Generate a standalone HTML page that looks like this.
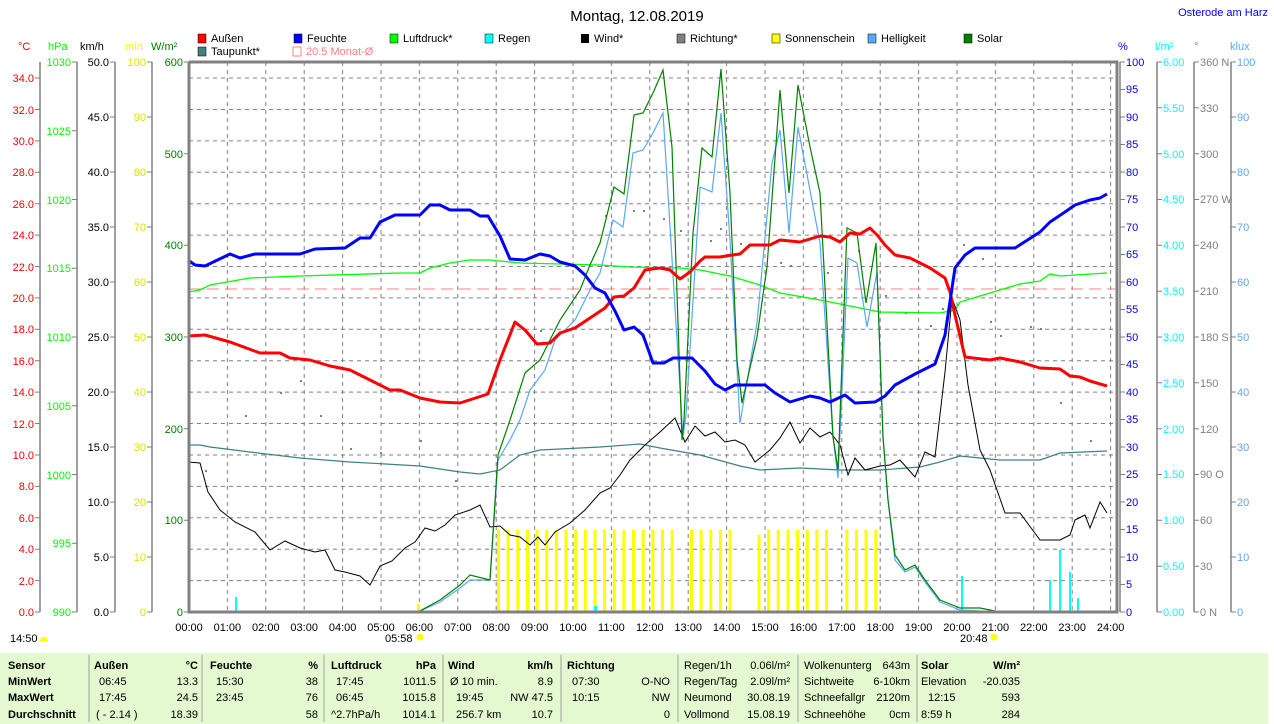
<!DOCTYPE html>
<html><head><meta charset="utf-8"><style>
html,body{margin:0;padding:0;background:#fff;}
svg{display:block;font-family:"Liberation Sans",sans-serif;}
</style></head><body>
<svg width="1274" height="724" viewBox="0 0 1274 724" xmlns="http://www.w3.org/2000/svg">
<rect width="1274" height="724" fill="#fff"/>
<text x="637" y="21" font-size="15" text-anchor="middle" fill="#000">Montag, 12.08.2019</text>
<text x="1268" y="16" font-size="11" text-anchor="end" fill="#0000ff">Osterode am Harz</text>
<!-- legend -->
<g font-size="11" fill="#000">
<rect x="198" y="34" width="8" height="9" fill="#f00" stroke="#000" stroke-width="0.5"/><text x="211" y="42">Außen</text>
<rect x="294" y="34" width="8" height="9" fill="#00f" stroke="#000" stroke-width="0.5"/><text x="307" y="42">Feuchte</text>
<rect x="390" y="34" width="8" height="9" fill="#0f0" stroke="#000" stroke-width="0.5"/><text x="403" y="42">Luftdruck*</text>
<rect x="485" y="34" width="8" height="9" fill="#0ff" stroke="#000" stroke-width="0.5"/><text x="498" y="42">Regen</text>
<rect x="581" y="34" width="8" height="9" fill="#000"/><text x="594" y="42">Wind*</text>
<rect x="677" y="34" width="8" height="9" fill="#808080" stroke="#000" stroke-width="0.5"/><text x="690" y="42">Richtung*</text>
<rect x="772" y="34" width="8" height="9" fill="#ff0" stroke="#000" stroke-width="0.5"/><text x="785" y="42">Sonnenschein</text>
<rect x="868" y="34" width="8" height="9" fill="#59a7ff" stroke="#000" stroke-width="0.5"/><text x="881" y="42">Helligkeit</text>
<rect x="964" y="34" width="8" height="9" fill="#008000" stroke="#000" stroke-width="0.5"/><text x="977" y="42">Solar</text>
<rect x="198" y="47" width="8" height="9" fill="#408080" stroke="#000" stroke-width="0.5"/><text x="211" y="55">Taupunkt*</text>
<rect x="293" y="47" width="8" height="9" fill="none" stroke="#ff8080"/><text x="306" y="55" fill="#ff8080">20.5 Monat-Ø</text>
</g>
<!-- axis units -->
<g font-size="11">
<text x="18" y="50" fill="#f00">°C</text>
<text x="48" y="50" fill="#0f0">hPa</text>
<text x="80" y="50" fill="#000">km/h</text>
<text x="125" y="50" fill="#ff0">min</text>
<text x="151" y="50" fill="#008000">W/m²</text>
<text x="1118" y="50" fill="#00f">%</text>
<text x="1155" y="50" fill="#0ff">l/m²</text>
<text x="1194" y="50" fill="#808080">°</text>
<text x="1230" y="50" fill="#59a7ff">klux</text>
</g>
<!-- grid -->
<g stroke="#808080" stroke-dasharray="4,4" stroke-width="1">
<path d="M227.4 62V612M265.8 62V612M304.2 62V612M342.6 62V612M381 62V612M419.4 62V612M457.8 62V612M496.2 62V612M534.6 62V612M573 62V612M611.4 62V612M649.8 62V612M688.2 62V612M726.6 62V612M765 62V612M803.4 62V612M841.8 62V612M880.2 62V612M918.6 62V612M957 62V612M995.4 62V612M1033.8 62V612M1072.2 62V612M1110.6 62V612"/>
<path d="M189 580.6H1117M189 549.2H1117M189 517.8H1117M189 486.4H1117M189 455H1117M189 423.5H1117M189 392.1H1117M189 360.7H1117M189 329.3H1117M189 297.9H1117M189 266.5H1117M189 235.1H1117M189 203.7H1117M189 172.3H1117M189 140.9H1117M189 109.5H1117M189 78H1117"/>
</g>
<line x1="189" y1="289" x2="1117" y2="289" stroke="#ff8080" stroke-dasharray="12,6"/>
<!-- sunshine bars -->
<g fill="#ff0">
<rect x="497" y="530" width="3" height="82"/><rect x="506.6" y="530" width="3" height="82"/><rect x="516.3" y="530" width="3" height="82"/><rect x="526" y="530" width="3" height="82"/><rect x="535.6" y="530" width="3" height="82"/><rect x="545.2" y="530" width="3" height="82"/><rect x="554.9" y="530" width="3" height="82"/><rect x="564.5" y="530" width="3" height="82"/><rect x="574.2" y="530" width="3" height="82"/><rect x="583.8" y="530" width="3" height="82"/><rect x="593.5" y="530" width="3" height="82"/><rect x="603.1" y="530" width="3" height="82"/><rect x="612.8" y="530" width="3" height="82"/><rect x="622.4" y="530" width="3" height="82"/><rect x="632" y="530" width="3" height="82"/><rect x="641.7" y="530" width="3" height="82"/><rect x="651.4" y="530" width="3" height="82"/><rect x="661" y="530" width="3" height="82"/><rect x="670.7" y="530" width="3" height="82"/>
<rect x="690" y="530" width="3" height="82"/><rect x="699.6" y="530" width="3" height="82"/><rect x="709.3" y="530" width="3" height="82"/><rect x="719" y="530" width="3" height="82"/><rect x="728.6" y="530" width="3" height="82"/>
<rect x="757.5" y="535" width="3" height="77"/><rect x="767.2" y="530" width="3" height="82"/><rect x="776.8" y="530" width="3" height="82"/><rect x="786.5" y="530" width="3" height="82"/><rect x="796.1" y="530" width="3" height="82"/><rect x="805.8" y="530" width="3" height="82"/><rect x="815.4" y="530" width="3" height="82"/><rect x="825" y="530" width="3" height="82"/>
<rect x="845.3" y="530" width="3" height="82"/><rect x="855" y="530" width="3" height="82"/><rect x="864.6" y="530" width="3" height="82"/><rect x="874.3" y="530" width="3" height="82"/>
<rect x="417" y="604" width="3" height="8"/>
</g>
<!-- rain -->
<g fill="#0ff">
<rect x="235" y="597" width="2" height="15"/><rect x="961" y="576" width="2" height="36"/><rect x="1049" y="580" width="2" height="32"/><rect x="1059" y="550" width="2" height="62"/><rect x="1069" y="572" width="2" height="40"/><rect x="1077" y="598" width="2" height="14"/><rect x="594" y="606" width="3" height="6"/>
</g>
<!-- direction dots -->
<g fill="#808080">
<rect x="205" y="470" width="2" height="2"/><rect x="245" y="415" width="2" height="2"/><rect x="280" y="392" width="2" height="2"/><rect x="300" y="380" width="2" height="2"/><rect x="320" y="415" width="2" height="2"/><rect x="350" y="448" width="2" height="2"/><rect x="380" y="452" width="2" height="2"/><rect x="420" y="440" width="2" height="2"/><rect x="455" y="480" width="2" height="2"/><rect x="540" y="330" width="2" height="2"/><rect x="605" y="215" width="2" height="2"/><rect x="633" y="210" width="2" height="2"/><rect x="643" y="210" width="2" height="2"/><rect x="663" y="218" width="2" height="2"/><rect x="680" y="230" width="2" height="2"/><rect x="710" y="240" width="2" height="2"/><rect x="720" y="228" width="2" height="2"/><rect x="740" y="243" width="2" height="2"/><rect x="780" y="262" width="2" height="2"/><rect x="790" y="265" width="2" height="2"/><rect x="827" y="272" width="2" height="2"/><rect x="858" y="250" width="2" height="2"/><rect x="885" y="295" width="2" height="2"/><rect x="905" y="312" width="2" height="2"/><rect x="930" y="325" width="2" height="2"/><rect x="942" y="308" width="2" height="2"/><rect x="963" y="244" width="2" height="2"/><rect x="982" y="258" width="2" height="2"/><rect x="990" y="321" width="2" height="2"/><rect x="1000" y="335" width="2" height="2"/><rect x="1030" y="326" width="2" height="2"/><rect x="1040" y="328" width="2" height="2"/><rect x="1060" y="402" width="2" height="2"/><rect x="1090" y="440" width="2" height="2"/>
</g>
<!-- Taupunkt -->
<polyline fill="none" stroke="#408080" stroke-width="1.2" points="188,445 200,445 210,447 250,452 300,458 350,462 420,466 460,472 480,474 500,470 520,455 540,450 600,447 640,444 660,448 700,455 740,466 760,470 800,468 840,470 880,470 920,467 940,462 960,456 1000,460 1040,460 1060,453 1107,451"/>
<!-- Luftdruck -->
<polyline fill="none" stroke="#0f0" stroke-width="1.3" points="188,292 200,290 210,285 250,278 300,276 400,273 420,273 430,268 450,263 470,260 490,260 520,263 600,265 630,267 680,268 700,270 730,276 760,285 780,293 820,300 860,308 880,312 940,313 955,310 960,302 980,296 1000,290 1020,284 1040,281 1050,274 1060,276 1107,273"/>
<!-- Wind -->
<polyline fill="none" stroke="#000" stroke-width="1" points="188,462 200,463 208,492 220,510 235,522 255,532 270,550 285,541 300,548 315,552 325,550 335,570 345,572 360,576 370,585 380,566 392,561 405,548 415,542 425,528 435,531 445,525 455,515 470,510 480,505 490,527 500,526 510,535 520,537 530,545 538,537 545,545 555,532 570,523 585,510 600,493 610,488 620,475 630,460 645,445 660,432 675,418 685,442 695,426 705,436 715,432 725,442 735,440 745,445 755,462 770,450 780,438 790,422 800,443 810,428 820,437 830,432 840,445 848,475 855,458 865,470 880,466 890,465 900,460 915,477 925,452 935,457 945,372 952,298 960,320 968,385 980,450 990,470 1005,513 1020,513 1040,540 1060,540 1070,535 1075,520 1085,515 1090,528 1100,502 1107,513"/>
<!-- Helligkeit -->
<polyline fill="none" stroke="#59a7ff" stroke-width="1.2" points="418,612 440,602 460,588 470,580 490,580 498,460 510,440 520,420 530,390 545,370 555,340 575,320 590,290 600,273 613,220 623,227 633,153 643,150 653,133 663,113 683,437 686,415 700,187 712,192 721,113 730,240 740,423 757,323 772,163 780,130 789,233 798,127 820,243 833,437 838,478 848,258 857,263 867,327 877,272 883,437 888,500 895,560 905,572 915,567 925,582 940,602 960,610 1000,612"/>
<!-- Solar -->
<polyline fill="none" stroke="#008000" stroke-width="1.2" points="418,612 440,600 460,585 470,575 490,580 498,455 510,420 525,373 540,360 560,320 580,290 590,265 600,243 604,227 614,187 624,194 634,115 643,113 653,93 663,70 672,147 682,440 684,420 693,233 702,148 712,157 721,69 730,193 737,360 742,403 757,337 767,267 780,90 789,193 798,85 810,147 820,193 833,437 838,470 847,228 857,233 866,303 876,243 883,437 888,500 895,555 905,570 915,565 925,580 940,600 960,608 980,608 1000,612"/>
<!-- Außen -->
<polyline fill="none" stroke="#f00" stroke-width="3" stroke-linejoin="round" points="188,336 205,335 230,342 260,353 280,353 290,358 310,360 330,366 350,370 370,380 390,390 400,390 420,398 440,402 460,403 488,394 500,360 515,322 525,330 537,344 550,343 560,333 575,328 590,318 605,308 614,297 624,296 634,288 645,270 660,268 670,270 680,279 690,272 700,261 705,257 720,257 732,255 740,254 750,245 770,245 780,240 800,242 820,236 830,237 840,242 850,233 860,234 870,228 878,236 885,245 895,255 910,258 930,268 945,278 950,292 955,315 965,357 990,360 1000,358 1020,362 1040,368 1060,369 1070,376 1080,377 1090,381 1107,386"/>
<!-- Feuchte -->
<polyline fill="none" stroke="#00f" stroke-width="3" stroke-linejoin="round" points="188,260 195,265 205,266 230,254 240,258 255,254 300,254 315,249 345,248 360,238 370,238 380,222 395,215 420,215 430,205 440,205 450,210 470,210 480,216 488,216 500,236 510,259 525,260 540,254 550,256 560,262 575,266 585,275 595,288 605,293 615,311 624,330 634,327 643,335 653,363 664,363 673,358 692,358 705,371 715,384 725,390 735,385 765,385 775,393 790,402 810,396 820,398 830,402 845,395 855,403 875,402 885,396 895,385 915,374 935,364 945,335 955,268 965,255 975,248 1015,248 1040,232 1050,222 1065,212 1075,205 1090,200 1100,198 1107,194"/>
<!-- plot border -->
<g stroke="#808080" stroke-width="3" fill="none">
<path d="M189 62V612H1117V62H189"/>
</g>
<!-- axes lines -->
<g stroke="#808080" stroke-width="1.5">
<path d="M40 62V612M77 62V612M115 62V612M152 62V612M1120 62V612M1157 62V612M1194 62V612M1231 62V612"/>
</g>
<!-- left ticks -->
<g stroke="#808080" stroke-width="1">
<path d="M35 612H40M35 580.6H40M35 549.2H40M35 517.8H40M35 486.4H40M35 455H40M35 423.5H40M35 392.1H40M35 360.7H40M35 329.3H40M35 297.9H40M35 266.5H40M35 235.1H40M35 203.7H40M35 172.3H40M35 140.9H40M35 109.5H40M35 78H40"/>
<path d="M72 612H77M72 543.2H77M72 474.5H77M72 405.8H77M72 337H77M72 268.2H77M72 199.5H77M72 130.8H77M72 62H77"/>
<path d="M110 612H115M110 557H115M110 502H115M110 447H115M110 392H115M110 337H115M110 282H115M110 227H115M110 172H115M110 117H115M110 62H115"/>
<path d="M147 612H152M147 557H152M147 502H152M147 447H152M147 392H152M147 337H152M147 282H152M147 227H152M147 172H152M147 117H152M147 62H152"/>
<path d="M184 612H189M184 520.3H189M184 428.7H189M184 337H189M184 245.3H189M184 153.7H189M184 62H189"/>
</g>
<g font-size="11" text-anchor="end">
<g fill="#f00">
<text x="34" y="616">0.0</text><text x="34" y="585">2.0</text><text x="34" y="553">4.0</text><text x="34" y="522">6.0</text><text x="34" y="490">8.0</text><text x="34" y="459">10.0</text><text x="34" y="428">12.0</text><text x="34" y="396">14.0</text><text x="34" y="365">16.0</text><text x="34" y="333">18.0</text><text x="34" y="302">20.0</text><text x="34" y="271">22.0</text><text x="34" y="239">24.0</text><text x="34" y="208">26.0</text><text x="34" y="176">28.0</text><text x="34" y="145">30.0</text><text x="34" y="114">32.0</text><text x="34" y="82">34.0</text>
</g>
<g fill="#0f0">
<text x="71" y="616">990</text><text x="71" y="547">995</text><text x="71" y="479">1000</text><text x="71" y="410">1005</text><text x="71" y="341">1010</text><text x="71" y="272">1015</text><text x="71" y="204">1020</text><text x="71" y="135">1025</text><text x="71" y="66">1030</text>
</g>
<g fill="#000">
<text x="109" y="616">0.0</text><text x="109" y="561">5.0</text><text x="109" y="506">10.0</text><text x="109" y="451">15.0</text><text x="109" y="396">20.0</text><text x="109" y="341">25.0</text><text x="109" y="286">30.0</text><text x="109" y="231">35.0</text><text x="109" y="176">40.0</text><text x="109" y="121">45.0</text><text x="109" y="66">50.0</text>
</g>
<g fill="#e0e000">
<text x="146" y="616">0</text><text x="146" y="561">10</text><text x="146" y="506">20</text><text x="146" y="451">30</text><text x="146" y="396">40</text><text x="146" y="341">50</text><text x="146" y="286">60</text><text x="146" y="231">70</text><text x="146" y="176">80</text><text x="146" y="121">90</text><text x="146" y="66">100</text>
</g>
<g fill="#008000">
<text x="183" y="616">0</text><text x="183" y="524">100</text><text x="183" y="433">200</text><text x="183" y="341">300</text><text x="183" y="249">400</text><text x="183" y="158">500</text><text x="183" y="66">600</text>
</g>
</g>
<!-- right ticks -->
<g stroke="#808080" stroke-width="1">
<path d="M1120 612h5M1120 584.5h5M1120 557h5M1120 529.5h5M1120 502h5M1120 474.5h5M1120 447h5M1120 419.5h5M1120 392h5M1120 364.5h5M1120 337h5M1120 309.5h5M1120 282h5M1120 254.5h5M1120 227h5M1120 199.5h5M1120 172h5M1120 144.5h5M1120 117h5M1120 89.5h5M1120 62h5"/>
<path d="M1157 612h5M1157 566.2h5M1157 520.3h5M1157 474.5h5M1157 428.7h5M1157 382.8h5M1157 337h5M1157 291.2h5M1157 245.3h5M1157 199.5h5M1157 153.7h5M1157 107.8h5M1157 62h5"/>
<path d="M1194 612h5M1194 566.2h5M1194 520.3h5M1194 474.5h5M1194 428.7h5M1194 382.8h5M1194 337h5M1194 291.2h5M1194 245.3h5M1194 199.5h5M1194 153.7h5M1194 107.8h5M1194 62h5"/>
<path d="M1231 612h5M1231 557h5M1231 502h5M1231 447h5M1231 392h5M1231 337h5M1231 282h5M1231 227h5M1231 172h5M1231 117h5M1231 62h5"/>
</g>
<g font-size="11">
<g fill="#00f">
<text x="1126" y="616">0</text><text x="1126" y="588">5</text><text x="1126" y="561">10</text><text x="1126" y="533">15</text><text x="1126" y="506">20</text><text x="1126" y="478">25</text><text x="1126" y="451">30</text><text x="1126" y="423">35</text><text x="1126" y="396">40</text><text x="1126" y="368">45</text><text x="1126" y="341">50</text><text x="1126" y="313">55</text><text x="1126" y="286">60</text><text x="1126" y="258">65</text><text x="1126" y="231">70</text><text x="1126" y="203">75</text><text x="1126" y="176">80</text><text x="1126" y="148">85</text><text x="1126" y="121">90</text><text x="1126" y="93">95</text><text x="1126" y="66">100</text>
</g>
<g fill="#0ff">
<text x="1163" y="616">0.00</text><text x="1163" y="570">0.50</text><text x="1163" y="524">1.00</text><text x="1163" y="478">1.50</text><text x="1163" y="433">2.00</text><text x="1163" y="387">2.50</text><text x="1163" y="341">3.00</text><text x="1163" y="295">3.50</text><text x="1163" y="249">4.00</text><text x="1163" y="203">4.50</text><text x="1163" y="158">5.00</text><text x="1163" y="112">5.50</text><text x="1163" y="66">6.00</text>
</g>
<g fill="#808080">
<text x="1200" y="616">0 N</text><text x="1200" y="570">30</text><text x="1200" y="524">60</text><text x="1200" y="478">90 O</text><text x="1200" y="433">120</text><text x="1200" y="387">150</text><text x="1200" y="341">180 S</text><text x="1200" y="295">210</text><text x="1200" y="249">240</text><text x="1200" y="203">270 W</text><text x="1200" y="158">300</text><text x="1200" y="112">330</text><text x="1200" y="66">360 N</text>
</g>
<g fill="#59a7ff">
<text x="1237" y="616">0</text><text x="1237" y="561">10</text><text x="1237" y="506">20</text><text x="1237" y="451">30</text><text x="1237" y="396">40</text><text x="1237" y="341">50</text><text x="1237" y="286">60</text><text x="1237" y="231">70</text><text x="1237" y="176">80</text><text x="1237" y="121">90</text><text x="1237" y="66">100</text>
</g>
</g>
<!-- x labels -->
<g font-size="11" text-anchor="middle" fill="#000">
<text x="189" y="631">00:00</text><text x="227.4" y="631">01:00</text><text x="265.8" y="631">02:00</text><text x="304.2" y="631">03:00</text><text x="342.6" y="631">04:00</text><text x="381" y="631">05:00</text><text x="419.4" y="631">06:00</text><text x="457.8" y="631">07:00</text><text x="496.2" y="631">08:00</text><text x="534.6" y="631">09:00</text><text x="573" y="631">10:00</text><text x="611.4" y="631">11:00</text><text x="649.8" y="631">12:00</text><text x="688.2" y="631">13:00</text><text x="726.6" y="631">14:00</text><text x="765" y="631">15:00</text><text x="803.4" y="631">16:00</text><text x="841.8" y="631">17:00</text><text x="880.2" y="631">18:00</text><text x="918.6" y="631">19:00</text><text x="957" y="631">20:00</text><text x="995.4" y="631">21:00</text><text x="1033.8" y="631">22:00</text><text x="1072.2" y="631">23:00</text><text x="1110.6" y="631">24:00</text>
</g>
<g font-size="11" fill="#000">
<text x="10" y="642">14:50</text><text x="385" y="642">05:58</text><text x="960" y="642">20:48</text>
</g>
<path d="M40 641a4 4 0 0 1 8 0z" fill="#ff0"/>
<circle cx="420" cy="637" r="3.5" fill="#ff0"/>
<circle cx="994" cy="637" r="3.5" fill="#ff0"/>
<!-- footer -->
<rect x="0" y="653" width="1268" height="71" fill="#e4f9cf"/>
<g stroke="#a0a0a0" stroke-width="1">
<path d="M89 655V722M202 655V722M324 655V722M443 655V722M561 655V722M678 655V722M798 655V722M917 655V722"/>
</g>
<g font-size="11" fill="#000">
<g font-weight="bold">
<text x="8" y="669">Sensor</text><text x="8" y="685">MinWert</text><text x="8" y="701">MaxWert</text><text x="8" y="718">Durchschnitt</text>
<text x="94" y="669">Außen</text><text x="198" y="669" text-anchor="end">°C</text>
<text x="210" y="669">Feuchte</text><text x="318" y="669" text-anchor="end">%</text>
<text x="331" y="669">Luftdruck</text><text x="436" y="669" text-anchor="end">hPa</text>
<text x="448" y="669">Wind</text><text x="553" y="669" text-anchor="end">km/h</text>
<text x="567" y="669">Richtung</text>
<text x="921" y="669">Solar</text><text x="1020" y="669" text-anchor="end">W/m²</text>
</g>
<text x="99" y="685">06:45</text><text x="198" y="685" text-anchor="end">13.3</text>
<text x="99" y="701">17:45</text><text x="198" y="701" text-anchor="end">24.5</text>
<text x="96" y="718">( - 2.14 )</text><text x="198" y="718" text-anchor="end">18.39</text>
<text x="216" y="685">15:30</text><text x="318" y="685" text-anchor="end">38</text>
<text x="216" y="701">23:45</text><text x="318" y="701" text-anchor="end">76</text>
<text x="318" y="718" text-anchor="end">58</text>
<text x="336" y="685">17:45</text><text x="436" y="685" text-anchor="end">1011.5</text>
<text x="336" y="701">06:45</text><text x="436" y="701" text-anchor="end">1015.8</text>
<text x="331" y="718">^2.7hPa/h</text><text x="436" y="718" text-anchor="end">1014.1</text>
<text x="450" y="685">Ø 10 min.</text><text x="553" y="685" text-anchor="end">8.9</text>
<text x="456" y="701">19:45</text><text x="553" y="701" text-anchor="end">NW 47.5</text>
<text x="456" y="718">256.7 km</text><text x="553" y="718" text-anchor="end">10.7</text>
<text x="572" y="685">07:30</text><text x="670" y="685" text-anchor="end">O-NO</text>
<text x="572" y="701">10:15</text><text x="670" y="701" text-anchor="end">NW</text>
<text x="670" y="718" text-anchor="end">0</text>
<text x="684" y="669">Regen/1h</text><text x="790" y="669" text-anchor="end">0.06l/m²</text>
<text x="684" y="685">Regen/Tag</text><text x="790" y="685" text-anchor="end">2.09l/m²</text>
<text x="684" y="701">Neumond</text><text x="790" y="701" text-anchor="end">30.08.19</text>
<text x="684" y="718">Vollmond</text><text x="790" y="718" text-anchor="end">15.08.19</text>
<text x="804" y="669">Wolkenunterg</text><text x="910" y="669" text-anchor="end">643m</text>
<text x="804" y="685">Sichtweite</text><text x="910" y="685" text-anchor="end">6-10km</text>
<text x="804" y="701">Schneefallgr</text><text x="910" y="701" text-anchor="end">2120m</text>
<text x="804" y="718">Schneehöhe</text><text x="910" y="718" text-anchor="end">0cm</text>
<text x="921" y="685">Elevation</text><text x="1020" y="685" text-anchor="end">-20.035</text>
<text x="928" y="701">12:15</text><text x="1020" y="701" text-anchor="end">593</text>
<text x="921" y="718">8:59 h</text><text x="1020" y="718" text-anchor="end">284</text>
</g>
</svg>
</body></html>
